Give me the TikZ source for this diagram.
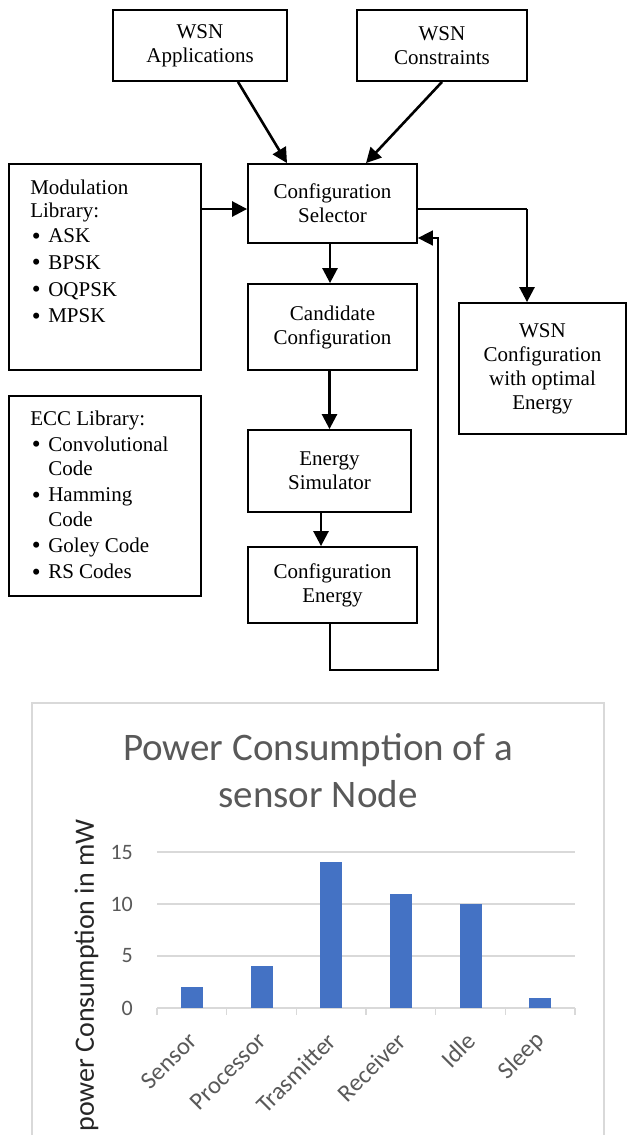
\documentclass[tikz,border=0pt]{standalone}
\usepackage{fontspec}
\setmainfont{Liberation Serif}
\newfontfamily\chartfont{Carlito}
\usetikzlibrary{arrows.meta,calc}
\definecolor{barblue}{HTML}{4472C4}
\definecolor{gridgray}{HTML}{D9D9D9}
\definecolor{labgray}{HTML}{595959}
\newcommand{\bul}{\makebox[18pt][l]{\hspace{1.5pt}\raisebox{-1.3pt}{\scalebox{1.2}{\textbullet}}}}
\begin{document}
\begin{tikzpicture}[x=1pt,y=-1pt,
  box/.style={draw, line width=1.8pt, inner sep=0pt, align=center,
    font=\fontsize{21}{24}\selectfont},
  listtext/.style={anchor=north west, inner sep=0pt, align=left},
  arr/.style={line width=2.6pt, -{Triangle[length=15pt,width=15pt]}},
  thinarr/.style={line width=1.7pt, -{Triangle[length=15pt,width=15pt]}},
  grid/.style={draw=gridgray, line width=1.4pt},
  bar/.style={fill=barblue},
  ticklab/.style={font=\chartfont\fontsize{22}{24}\selectfont, text=labgray, inner sep=0pt},
  catlab/.style={font=\chartfont\fontsize{24.5}{26}\selectfont, text=labgray, inner sep=0pt, rotate=45, anchor=east}]
\useasboundingbox (0,0) rectangle (628,1135);
\fill[white] (0,0) rectangle (628,1135);

% ---------- flow diagram ----------
\node[box, minimum width=174pt, minimum height=71pt] (app) at (200,45.5) {WSN\\Applications};
\node[box, minimum width=170pt, minimum height=71pt] (con) at (442,45.5) {WSN\\Constraints};
\node[box, minimum width=192pt, minimum height=206pt] (mod) at (105,267) {};
\node[box, minimum width=192pt, minimum height=200pt] (ecc) at (105,496) {};
\node[box, minimum width=169pt, minimum height=79pt] (sel) at (332.5,203.5) {Configuration\\Selector};
\node[box, minimum width=169pt, minimum height=86pt] (cand) at (332.5,327) {Candidate\\Configuration};
\node[box, minimum width=163pt, minimum height=82pt] (esim) at (329.5,471) {Energy\\Simulator};
\node[box, minimum width=169pt, minimum height=76pt] (cen) at (332.5,585) {Configuration\\Energy};
\node[box, minimum width=167pt, minimum height=131pt] (opt) at (542.5,368.5) {WSN\\Configuration\\with optimal\\Energy};

\node[listtext, font=\fontsize{21}{23.5}\selectfont] (modtxt) at ($(mod.north west)+(22,16.5)$)
  {Modulation\\Library:\\[1.5pt]
   \bul ASK\\[3pt]
   \bul BPSK\\[3.5pt]
   \bul OQPSK\\[3pt]
   \bul MPSK};
\node[listtext, font=\fontsize{21}{24.5}\selectfont] (ecctxt) at ($(ecc.north west)+(22,15.5)$)
  {ECC Library:\\[1.5pt]
   \bul Convolutional\\
   \hspace*{18pt}Code\\[1.5pt]
   \bul Hamming\\
   \hspace*{18pt}Code\\[1.5pt]
   \bul Goley Code\\[2pt]
   \bul RS Codes};

\coordinate (selin) at ($(sel.west)+(0,5.5)$);
\coordinate (selout) at ($(sel.east)+(0,5.5)$);
\coordinate (selfb) at ($(sel.east)+(0,34.5)$);
\coordinate (optin) at ($(opt.north)+(-15.5,0)$);

\draw[arr] ([xshift=38pt]app.south) -- ([xshift=-45.5pt]sel.north);
\draw[arr] (con.south) -- ([xshift=33.5pt]sel.north);
\draw[arr] (selin -| mod.east) -- (selin);
\draw[line width=1.8pt] (selout) -- (selout -| optin);
\draw[arr] (selout -| optin) -- (optin);
\draw[arr] ([xshift=-2.5pt]sel.south) -- ([xshift=-2.5pt]cand.north);
\draw[arr] (cand.south -| esim.north) -- (esim.north);
\draw[arr] ([xshift=-8.5pt]esim.south) -- ([xshift=-8.5pt]esim.south |- cen.north);
\draw[thinarr] ([xshift=-2.5pt]cen.south) -- ++(0,46) -| ($(selfb)+(20,0)$) -- (selfb);

% ---------- chart ----------
\draw[draw=gridgray, line width=1.3pt] (32,1140) -- (32,703) -- (604,703) -- (604,1140);
\foreach \yy in {852,904,956} \draw[grid] (157,\yy) -- (575,\yy);
\draw[grid] (157,1008) -- (575,1008);
\foreach \k in {0,...,6} \draw[grid] ({157+69.667*\k},1008) -- ({157+69.667*\k},1015);

\foreach \v [count=\i] in {2,4,14,11,10,1}
  \fill[bar] ({157+69.667*(\i-0.5)-11},1008) rectangle ({157+69.667*(\i-0.5)+11},{1008-10.4*\v});

\node[ticklab, anchor=east] (t15) at (133,852) {15};
\node[ticklab, anchor=east] (t10) at (133,904) {10};
\node[ticklab, anchor=east] (t5) at (133,956) {5};
\node[ticklab, anchor=east] (t0) at (133,1008) {0};

\node[catlab] (c1) at ({157+69.667*0.5+1},1037) {Sensor};
\node[catlab] (c2) at ({157+69.667*1.5+1},1037) {Processor};
\node[catlab] (c3) at ({157+69.667*2.5+1},1037) {Trasmitter};
\node[catlab] (c4) at ({157+69.667*3.5+1},1037) {Receiver};
\node[catlab] (c5) at ({157+69.667*4.5+1},1037) {Idle};
\node[catlab] (c6) at ({157+69.667*5.5+1},1037) {Sleep};

\node[font=\chartfont\fontsize{39}{47}\selectfont, text=labgray, align=center, inner sep=0pt] (title) at (318,771) {Power Consumption of a\\sensor Node};
\node[font=\chartfont\fontsize{28}{30}\selectfont, text=black!85, rotate=90, anchor=east, inner sep=0pt] (ytitle) at (86.5,819) {power Consumption in mW};
\end{tikzpicture}
\end{document}
